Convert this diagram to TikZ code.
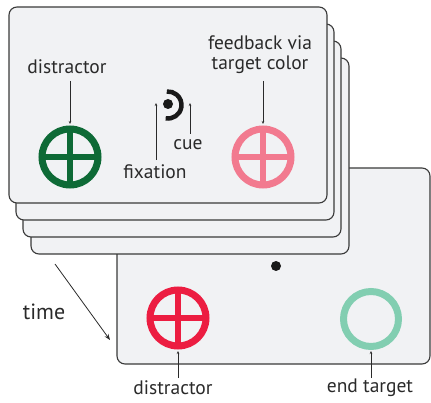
\documentclass[tikz,border=0pt]{standalone}
\usepackage{fontspec}
\setmainfont{PT Sans}
\usetikzlibrary{arrows.meta}
\definecolor{cardfill}{HTML}{F1F2F4}
\definecolor{cardline}{HTML}{3A3A3A}
\definecolor{dgreen}{HTML}{0E6A36}
\definecolor{pinkc}{HTML}{F27A8F}
\definecolor{redc}{HTML}{EC1D41}
\definecolor{mint}{HTML}{82CEB1}
\definecolor{txt}{HTML}{2A2A2A}
\tikzset{
  card/.style={draw=cardline, fill=cardfill, line width=1.1pt, rounded corners=8pt},
  lbl/.style={text=txt, font=\fontsize{19.5}{21}\selectfont, inner sep=0pt},
  ptr/.style={draw=txt, line width=0.8pt, -{Stealth[length=3pt,width=2.5pt]}},
  ring/.style={line width=7pt},
}
\newcommand{\crossring}[3]{%
  \draw[#3, ring] (#1,#2) circle (28);
  \draw[#3, line width=5.5pt] (#1-28,#2) -- (#1+28,#2) (#1,#2-28) -- (#1,#2+28);
}
\begin{document}
\begin{tikzpicture}[x=1pt,y=-1pt]
\useasboundingbox (0,0) rectangle (431,403);
% bottom card
\draw[card] (117,168) rectangle (430,364);
% stacked cards
\draw[card] (31,58) rectangle (349,254);
\draw[card] (23,41) rectangle (341,237);
\draw[card] (16,24) rectangle (334,220);
\draw[card] (9,7) rectangle (327,203);
% front card contents
\crossring{70}{157}{dgreen}
\crossring{263}{157}{pinkc}
\node[lbl] (dist1) at (67,67) {distractor};
\coordinate (dist1c) at (70,124);
\draw[ptr] (70,81) -- (dist1c);
\node[lbl, align=center] (fb) at (260,55) {feedback via\\[-1pt]target color};
\coordinate (fbc) at (263,124);
\draw[ptr] (263,81) -- (fbc);
\fill[black!90] (168,104) circle (5);
\draw[black!90, line width=4.5pt] (168,105) ++(100:13.5) arc (100:-95:13.5);
\node[lbl] (fix) at (155,172) {fixation};
\coordinate (fixc) at (156,103);
\draw[ptr] (156,160) -- (fixc);
\node[lbl] (cue) at (188,145) {cue};
\coordinate (cuec) at (190,103);
\draw[ptr] (190,134) -- (cuec);
% bottom card contents
\fill[black!90] (276,266) circle (5);
\crossring{178}{318}{redc}
\draw[mint, ring] (371,319) circle (27.5);
\node[lbl] (dist2) at (173,388) {distractor};
\coordinate (dist2c) at (178,351);
\draw[ptr] (178,378) -- (dist2c);
\node[lbl] (endt) at (370,388) {end target};
\coordinate (endc) at (371,351);
\draw[ptr] (371,378) -- (endc);
% time
\node[lbl, font=\fontsize{22}{24}\selectfont] (time) at (44,312) {time};
\coordinate (ts) at (55,264);
\coordinate (te) at (110,340);
\draw[draw=txt, line width=0.8pt, -{Stealth[length=6pt,width=4.5pt]}] (ts) -- (te);
\end{tikzpicture}
\end{document}
